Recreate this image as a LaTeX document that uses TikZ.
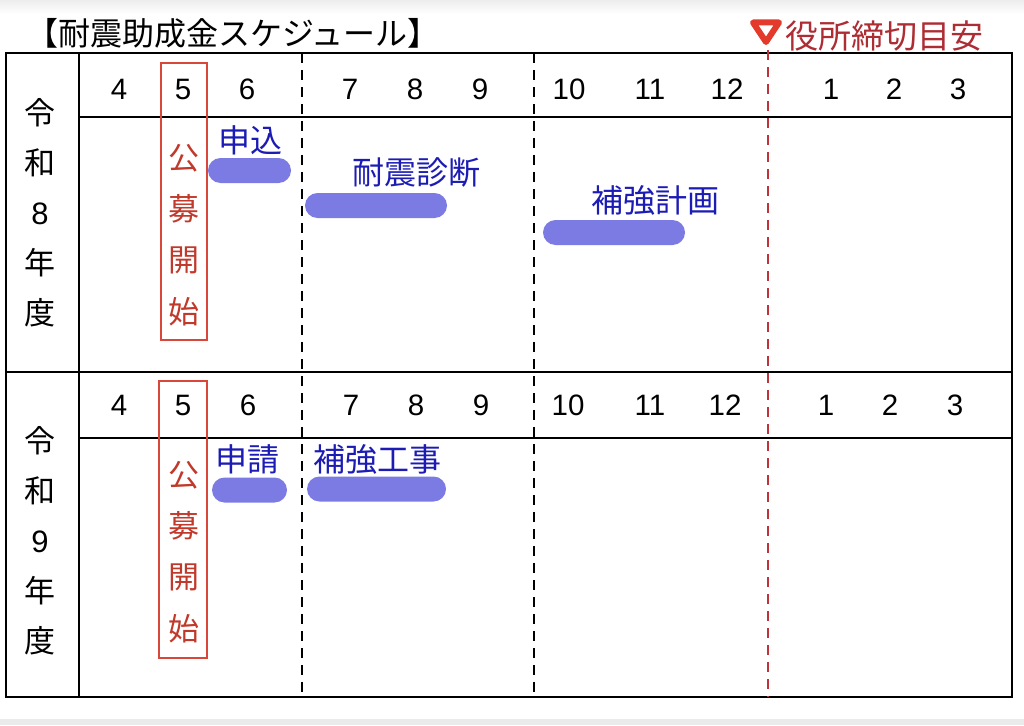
\documentclass[tikz,border=0pt]{standalone}
\usepackage{fontspec}
\setmainfont{Noto Sans CJK JP}
\newfontfamily\numfont{Liberation Sans}
\definecolor{boxred}{HTML}{D9473B}
\definecolor{txtred}{HTML}{C0392B}
\definecolor{taskblue}{HTML}{1C1CB5}
\definecolor{barblue}{HTML}{7B7BE3}
\definecolor{limitred}{HTML}{C0323A}
\definecolor{triared}{HTML}{E33A2C}
\begin{document}
\begin{tikzpicture}[x=1pt, y=-1pt,
  month/.style={anchor=base, font=\numfont\fontsize{29.5}{34}\selectfont},
  nendo/.style={align=center, font=\fontsize{31}{50}\selectfont},
  koubo/.style={align=center, text=txtred, font=\fontsize{31}{51.3}\selectfont},
  task/.style={text=taskblue, font=\fontsize{32}{38}\selectfont},
  bar/.style={fill=barblue, rounded corners=12.5pt, minimum height=25pt, inner sep=0pt},
  kubun/.style={dashed, dash pattern=on 10pt off 7pt, line width=2pt}]
\useasboundingbox (0,0) rectangle (1024,725);
\shade[top color=black!7, bottom color=white] (0,0) rectangle (1024,14);
\fill[black!8] (0,719) rectangle (1024,725);

% title and deadline mark
\node (title) at (233,33) [font=\fontsize{32}{38}\selectfont] {【耐震助成金スケジュール】};
\draw[triared, fill=white, line width=6pt, line join=round] (753,22.5) -- (779,22.5) -- (766,42) -- cycle;
\node (shimekiri) at (884,36) [text=limitred!90!black, font=\fontsize{33}{38}\selectfont] {役所締切目安};

% table
\draw[line width=2.8pt] (6,53) rectangle (1012,697);
\draw[line width=2.2pt] (79,53) -- (79,697);
\draw[line width=2.2pt] (6,372) -- (1012,372);
\draw[line width=2.2pt] (79,117) -- (1012,117);
\draw[line width=2.2pt] (79,438) -- (1012,438);
\draw[kubun] (302,53) -- (302,697);
\draw[kubun] (534,53) -- (534,697);
\draw[kubun, limitred, line width=2.4pt] (768,50) -- (768,697);

% months
\foreach \m/\x in {4/119,5/183,6/247,7/350,8/415,9/480,10/569,11/650,12/727,1/831,2/894,3/958}
  \node (ma\m) at (\x,99) [month] {\m};
\foreach \m/\x in {4/119,5/183,6/248,7/351,8/416,9/481,10/568,11/650,12/725,1/826,2/890,3/955}
  \node (mb\m) at (\x,415) [month] {\m};

% fiscal years
\node (r8) at (40,213) [nendo] {令\\和\\{\numfont 8}\\年\\度};
\node (r9) at (40,541) [nendo] {令\\和\\{\numfont 9}\\年\\度};

% call for applications
\draw[boxred, line width=2pt] (161,63) rectangle (207,340);
\draw[boxred, line width=2pt] (159,381) rectangle (207,658);
\node (kouboa) at (184,235) [koubo] {公\\募\\開\\始};
\node (koubob) at (184,552) [koubo] {公\\募\\開\\始};

% R8 tasks
\node (moshikomi) at (249.5,170.5) [bar, minimum width=83pt] {};
\node (shindan) at (376,205.5) [bar, minimum width=142pt] {};
\node (keikaku) at (614,232.5) [bar, minimum width=142pt] {};
\node at (250,140) [task] {申込};
\node at (416,172) [task] {耐震診断};
\node at (655,200) [task] {補強計画};

% R9 tasks
\node (shinsei) at (249.5,490) [bar, minimum width=75pt] {};
\node (kouji) at (376.5,489) [bar, minimum width=139pt] {};
\node at (247,459) [task] {申請};
\node at (377,459) [task] {補強工事};
\end{tikzpicture}
\end{document}
